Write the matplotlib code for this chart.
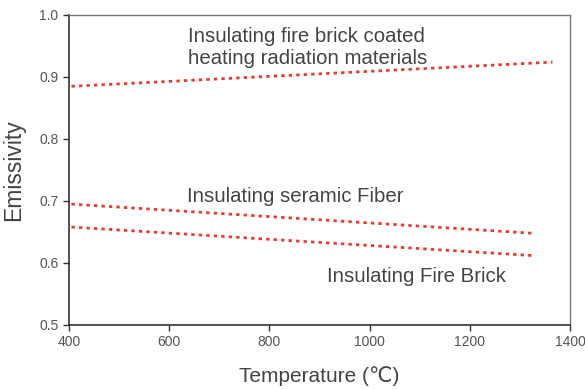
import matplotlib
matplotlib.use("Agg")
import matplotlib.pyplot as plt

plt.rcParams['font.family'] = ['Liberation Sans', 'DejaVu Sans']

# emissivity lines (start/end points)
coated_T = [405, 1365]
coated_e = [0.885, 0.924]
fiber_T = [405, 1325]
fiber_e = [0.695, 0.648]
brick_T = [405, 1325]
brick_e = [0.658, 0.612]

RED = "#e8392e"
TXT = "#444444"

fig = plt.figure(figsize=(5.85, 3.89), dpi=100)
ax = fig.add_axes([69/585, 1 - 325/389, (570-69)/585, (325-15)/389])

dots = dict(color=RED, lw=2.0, ls=(0, (1.2, 1.5)), dash_capstyle="butt")
ax.plot(coated_T, coated_e, **dots)
ax.plot(fiber_T, fiber_e, **dots)
ax.plot(brick_T, brick_e, **dots)

ax.text(637, 0.948, "Insulating fire brick coated\nheating radiation materials",
        fontsize=14.7, color=TXT, va="center", linespacing=1.2)
ax.text(635, 0.708, "Insulating seramic Fiber", fontsize=14.7, color=TXT, va="center")
ax.text(915, 0.579, "Insulating Fire Brick", fontsize=14.7, color=TXT, va="center")

ax.set_xlim(400, 1400)
ax.set_ylim(0.5, 1.0)
ax.set_xticks([400, 600, 800, 1000, 1200, 1400])
ax.set_yticks([0.5, 0.6, 0.7, 0.8, 0.9, 1.0])
ax.tick_params(direction="out", length=4, width=1, colors="#333333",
               labelcolor="#555555", labelsize=10, top=False, right=False)
for s in ["left", "bottom"]:
    ax.spines[s].set_color("#333333")
    ax.spines[s].set_linewidth(1.2)
for s in ["top", "right"]:
    ax.spines[s].set_color("#777777")
    ax.spines[s].set_linewidth(1.0)

ax.set_xlabel("Temperature (℃)", fontsize=15, color=TXT, labelpad=12)
ax.set_ylabel("Emissivity", fontsize=16.5, color=TXT, labelpad=10)

fig.savefig("out.png", dpi=100)
